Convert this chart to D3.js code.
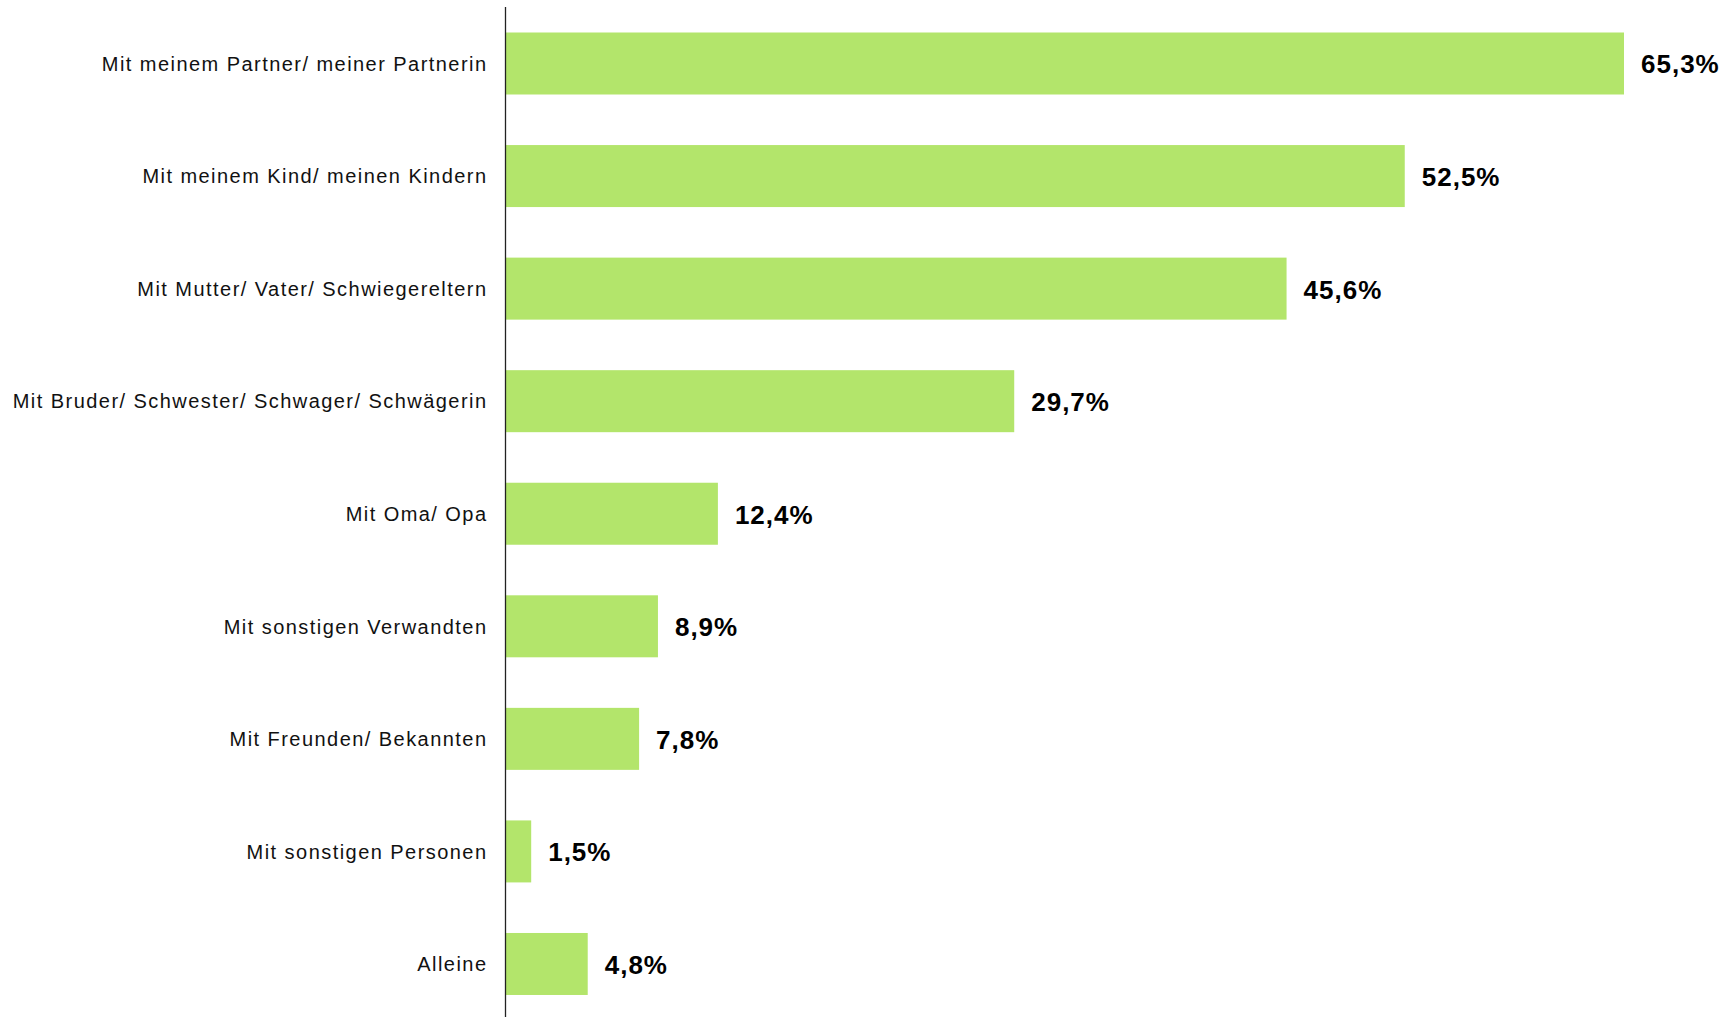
<!DOCTYPE html>
<html><head><meta charset="utf-8">
<script src="https://cdn.jsdelivr.net/npm/d3@7"></script>
<style>html,body{margin:0;padding:0;background:#fff;}svg{display:block;}</style>
</head><body><svg id="c" width="1735" height="1017"></svg>
<script>
const categories = [
  "Mit meinem Partner/ meiner Partnerin",
  "Mit meinem Kind/ meinen Kindern",
  "Mit Mutter/ Vater/ Schwiegereltern",
  "Mit Bruder/ Schwester/ Schwager/ Schwägerin",
  "Mit Oma/ Opa",
  "Mit sonstigen Verwandten",
  "Mit Freunden/ Bekannten",
  "Mit sonstigen Personen",
  "Alleine"
];
const values = [65.3, 52.5, 45.6, 29.7, 12.4, 8.9, 7.8, 1.5, 4.8];
const valueLabels = ["65,3%", "52,5%", "45,6%", "29,7%", "12,4%", "8,9%", "7,8%", "1,5%", "4,8%"];

const svg = d3.select("#c");
const x0 = 505.5;
const x = d3.scaleLinear().domain([0, 65.3]).range([x0, 1624]);
const step = 112.56, bh = 62;
const yPos = d3.scaleBand().domain(categories)
  .range([32.5 - (step - bh)/2, 32.5 - (step - bh)/2 + step*categories.length])
  .paddingInner(1 - bh/step).paddingOuter((1 - bh/step)/2);

const data = categories.map((c, i) => ({c, v: values[i], l: valueLabels[i]}));

svg.selectAll("rect.bar").data(data).join("rect")
  .attr("class", "bar")
  .attr("x", x(0))
  .attr("y", d => yPos(d.c))
  .attr("width", d => x(d.v) - x(0))
  .attr("height", yPos.bandwidth())
  .attr("fill", "#b3e56b");

svg.selectAll("text.val").data(data).join("text")
  .attr("class", "val")
  .attr("x", d => x(d.v) + 17)
  .attr("y", d => yPos(d.c) + yPos.bandwidth()/2)
  .attr("dy", "0.38em")
  .attr("font-family", "Liberation Sans, Arial, sans-serif")
  .attr("font-weight", "bold")
  .attr("font-size", 26)
  .attr("letter-spacing", 1)
  .attr("fill", "#000")
  .text(d => d.l);

svg.selectAll("text.cat").data(data).join("text")
  .attr("class", "cat")
  .attr("x", 487.5)
  .attr("y", d => yPos(d.c) + yPos.bandwidth()/2)
  .attr("dy", "0.36em")
  .attr("text-anchor", "end")
  .attr("font-family", "Liberation Sans, Arial, sans-serif")
  .attr("font-size", 20)
  .attr("letter-spacing", 1.45)
  .attr("fill", "#111")
  .text(d => d.c);

svg.append("line")
  .attr("x1", x0).attr("x2", x0)
  .attr("y1", 7).attr("y2", 1017)
  .attr("stroke", "#222").attr("stroke-width", 1.3);
</script></body></html>
